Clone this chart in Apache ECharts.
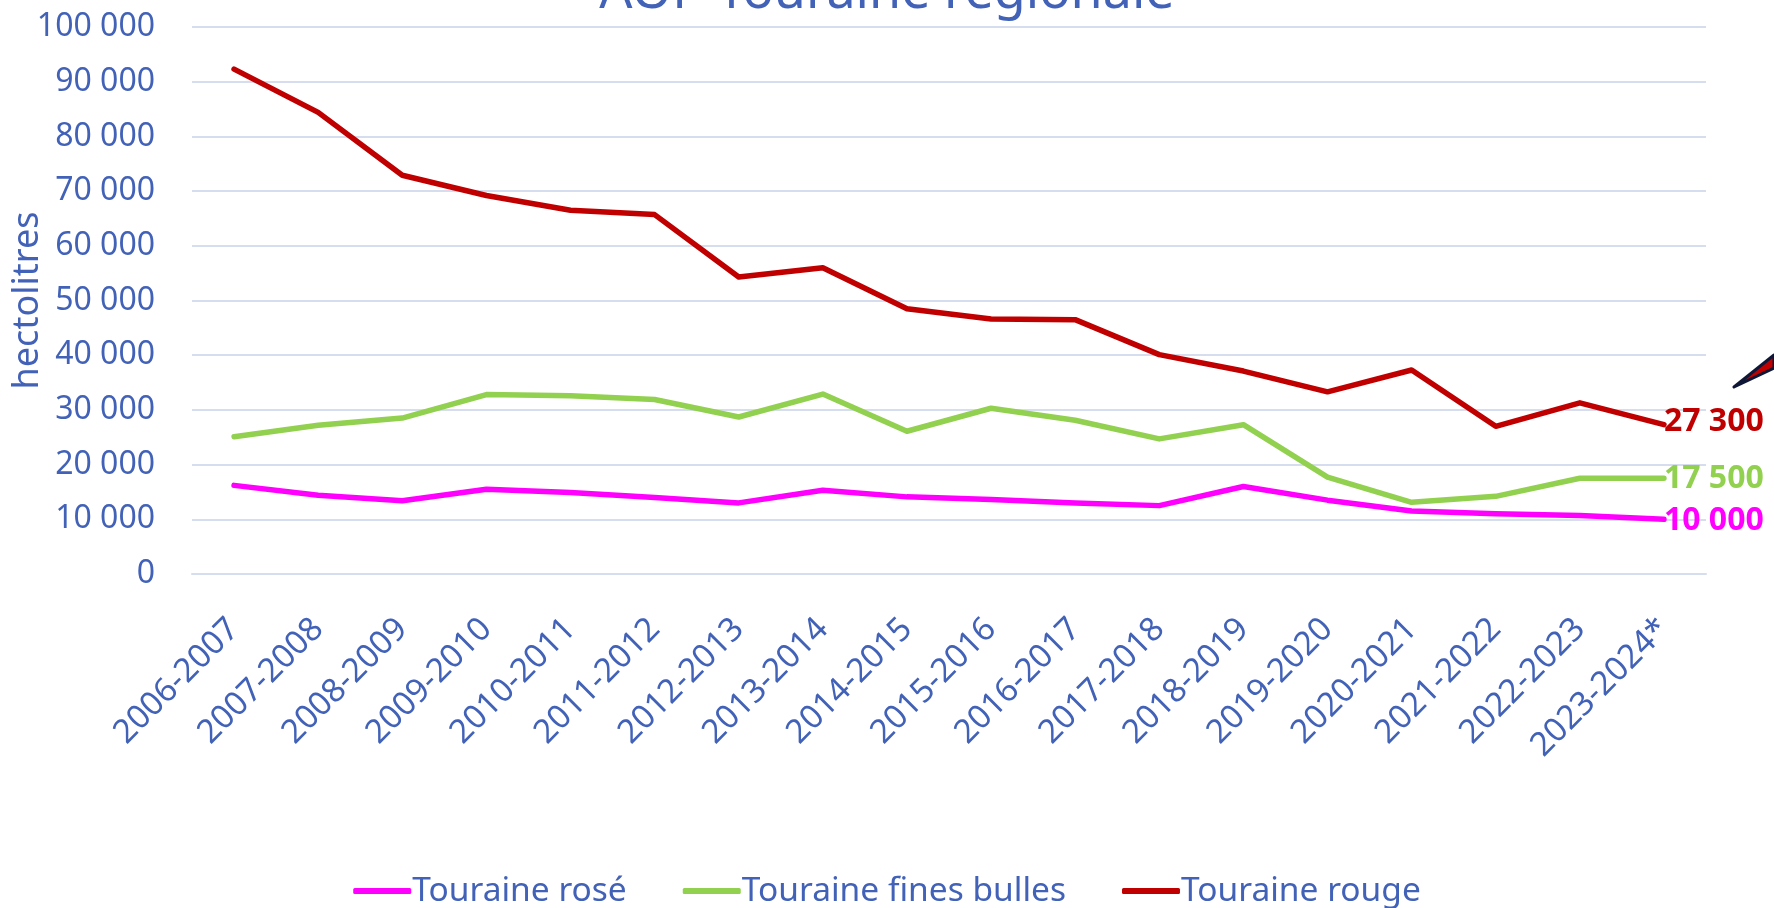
<!DOCTYPE html>
<html>
<head>
<meta charset="utf-8">
<script src="https://cdn.jsdelivr.net/npm/echarts@6/dist/echarts.min.js"></script>
<style>
  html, body { margin: 0; padding: 0; background: #fff; }
  #chart { width: 1774px; height: 908px; }
</style>
</head>
<body>
<div id="chart"></div>
<script>
// campagnes
const campagnes = [
  "2006-2007", "2007-2008", "2008-2009", "2009-2010", "2010-2011", "2011-2012",
  "2012-2013", "2013-2014", "2014-2015", "2015-2016", "2016-2017", "2017-2018",
  "2018-2019", "2019-2020", "2020-2021", "2021-2022", "2022-2023", "2023-2024*"
];

// volumes en hectolitres
const rose = [16200, 14400, 13400, 15500, 14900, 14000, 13000, 15300, 14100, 13600,
  13000, 12500, 16000, 13500, 11500, 11000, 10700, 10000];
const finesBulles = [25100, 27200, 28500, 32800, 32600, 31900, 28700, 32900, 26100, 30300,
  28100, 24700, 27300, 17700, 13100, 14200, 17500, 17500];
const rouge = [92300, 84400, 72900, 69200, 66500, 65700, 54300, 56000, 48500, 46600,
  46500, 40100, 37100, 33300, 37300, 27000, 31300, 27300];

const yTicks = [0, 100000, 10000]; // min, max, interval

const BLUE = "#4262B8";
const FONT = "Noto Sans";

const fmt = (v) => String(v).replace(/\B(?=(\d{3})+(?!\d))/g, " ");

const chart = echarts.init(document.getElementById("chart"));

const mkSeries = (name, data, color, labelOffset) => ({
  name: name,
  type: "line",
  data: data,
  symbol: "none",
  lineStyle: { color: color, width: 5.5, cap: "round", join: "round" },
  itemStyle: { color: color },
  endLabel: {
    show: true,
    distance: 0,
    offset: labelOffset,
    formatter: (p) => fmt(p.value),
    color: color,
    fontFamily: FONT,
    fontWeight: "bold",
    fontSize: 32,
  },
});

const option = {
  animation: false,
  title: {
    text: "AOP Touraine régionale",
    left: "center",
    top: -33,
    padding: 0,
    textStyle: { color: BLUE, fontFamily: FONT, fontWeight: "normal", fontSize: 52 },
  },
  legend: {
    top: 869,
    left: "center",
    icon: "roundRect",
    itemWidth: 58,
    itemHeight: 6,
    itemGap: 56,
    data: ["Touraine rosé", "Touraine fines bulles", "Touraine rouge"],
    textStyle: { color: BLUE, fontFamily: FONT, fontSize: 33.5, padding: [0, 0, 0, -4] },
  },
  grid: { left: 192, right: 68, top: 27, bottom: 334, containLabel: false, outerBoundsMode: "none" },
  xAxis: {
    type: "category",
    data: campagnes,
    boundaryGap: true,
    axisLine: { show: true, lineStyle: { color: "#D6DDEF", width: 2 } },
    axisTick: { show: false },
    axisLabel: {
      rotate: 45,
      interval: 0,
      margin: 50,
      color: BLUE,
      fontFamily: FONT,
      fontSize: 33,
    },
  },
  yAxis: {
    type: "value",
    min: yTicks[0],
    max: yTicks[1],
    interval: yTicks[2],
    name: "hectolitres",
    nameLocation: "middle",
    nameGap: 146,
    nameMoveOverlap: false,
    nameTextStyle: { color: BLUE, fontFamily: FONT, fontSize: 36 },
    axisLine: { show: false },
    axisTick: { show: false },
    splitLine: { lineStyle: { color: "#D6DDEF", width: 2 } },
    axisLabel: {
      margin: 37,
      color: BLUE,
      fontFamily: FONT,
      fontSize: 32,
      formatter: (v) => fmt(v),
    },
  },
  series: [
    mkSeries("Touraine rosé", rose, "#FF00FF", [0, 2]),
    mkSeries("Touraine fines bulles", finesBulles, "#92D050", [0, 1]),
    mkSeries("Touraine rouge", rouge, "#C00000", [0, -3]),
  ],
  graphic: [
    {
      // flèche coupée en haut à droite
      type: "polygon",
      shape: { points: [[1734, 387], [1774, 355], [1774, 368]] },
      style: { fill: "#C00000", stroke: "#0F1737", lineWidth: 3, lineJoin: "round" },
    },
  ],
};

chart.setOption(option);
</script>
</body>
</html>
